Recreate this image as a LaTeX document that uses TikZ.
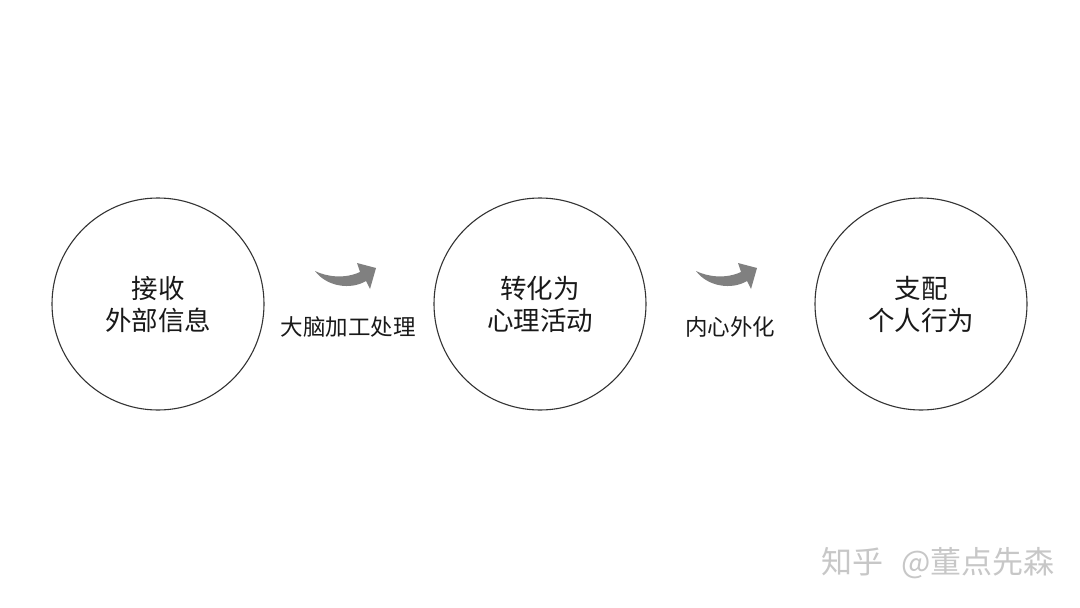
\documentclass[tikz,border=0pt]{standalone}
\usepackage{fontspec}
\newfontfamily\cjk{Noto Sans CJK SC}
\begin{document}
\begin{tikzpicture}[x=1pt,y=-1pt,
  stage/.style={circle,draw=black!80,line width=1.1pt,minimum size=212pt,inner sep=0pt,
    font=\cjk\fontsize{26.5}{32}\selectfont,text=black!90,align=center},
  lbl/.style={font=\cjk\fontsize{22.5}{26}\selectfont,text=black!90,inner sep=0pt},
  bentarrow/.style={fill=black!50,draw=none}]
\useasboundingbox[fill=white] (0,0) rectangle (1080,608);
\node[stage] (c1) at (158,304) {接收\\外部信息};
\node[stage] (c2) at (540,304) {转化为\\心理活动};
\node[stage] (c3) at (921,304) {支配\\个人行为};
\node[lbl] (l1) at (348,327) {大脑加工处理};
\node[lbl] (l2) at (730,327) {内心外化};
\coordinate (a1) at (315,271);
\coordinate (a2) at (696,271);
\foreach \a in {a1,a2}{
  \fill[bentarrow,shift={(\a)}] (0,0) .. controls (12,6) and (30,8) .. (45,1)
     -- (42,-8) -- (61,-3) -- (55,18) -- (51,10)
     .. controls (36,19) and (12,16) .. (0,0) -- cycle;
}
\node[font=\cjk\fontsize{31}{34}\selectfont,text=black!22,anchor=west,inner sep=0pt] (wm) at (821,563) {知乎\hspace{18pt}@董点先森};
\end{tikzpicture}
\end{document}
